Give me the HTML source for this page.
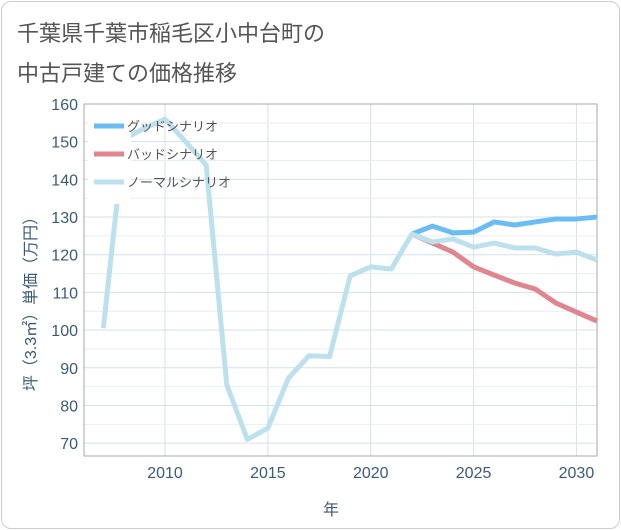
<!DOCTYPE html>
<html><head><meta charset="utf-8"><style>
body{margin:0;background:#fff;font-family:"Liberation Sans","Noto Sans CJK JP",sans-serif}
#card{position:absolute;left:1px;top:1px;width:617px;height:526px;border:1px solid #ccc;border-radius:10px;background:#fff}
#title{position:absolute;left:17px;top:14px;font-size:22px;line-height:40px;color:#555}
</style></head><body>
<div id="card"></div>
<div id="title">千葉県千葉市稲毛区小中台町の<br>中古戸建ての価格推移</div>
<svg id="chart" width="621" height="530" style="position:absolute;left:0;top:0"></svg>
<script>
const years=[2007,2008,2009,2010,2011,2012,2013,2014,2015,2016,2017,2018,2019,2020,2021,2022,2023,2024,2025,2026,2027,2028,2029,2030,2031];
const normal=[100.5,150.7,153.6,156,150,143.8,85.5,71,74,87.3,93.2,93,114.4,116.8,116.2,125.5,123.4,124.2,122,123.1,121.8,121.8,120.2,120.7,118.6];
const goodYears=[2022,2023,2024,2025,2026,2027,2028,2029,2030,2031];
const good=[125.5,127.6,125.8,126,128.7,127.9,128.7,129.5,129.5,130];
const bad=[125.5,123.1,120.7,116.8,114.6,112.5,110.9,107.2,104.8,102.4];
const xTicks=[2010,2015,2020,2025,2030];
const yTicks=[70,80,90,100,110,120,130,140,150,160];
const L=84,R=597,T=104,B=456,x0=2006.06,x1=2031,y0=66.6,y1=160;
const X=v=>L+(v-x0)/(x1-x0)*(R-L), Y=v=>B-(v-y0)/(y1-y0)*(B-T);
const svg=document.getElementById('chart');const NS='http://www.w3.org/2000/svg';
function mk(t,a,p){const e=document.createElementNS(NS,t);for(const k in a)e.setAttribute(k,a[k]);(p||svg).appendChild(e);return e;}
for(let v=2006;v<=2031;v++){if(v%5==0){const g=mk('line',{x1:X(v),x2:X(v),y1:T,y2:B,stroke:'#d5e1ea','stroke-width':1});}}
for(let v=70;v<=160;v+=5){const g=mk('line',{x1:L,x2:R,y1:Y(v),y2:Y(v),stroke:v%10==0?'#d5e1ea':'#e8eef3','stroke-width':1});}
mk('rect',{x:L,y:T,width:R-L,height:B-T,fill:'none',stroke:'#aaa','stroke-width':1});
yTicks.forEach(v=>{const t=mk('text',{x:78,y:Y(v)+6,'text-anchor':'end','font-size':16,fill:'#3c5a78'});t.textContent=v;});
xTicks.forEach(v=>{const t=mk('text',{x:X(v),y:478,'text-anchor':'middle','font-size':16,fill:'#3c5a78'});t.textContent=v;});
const xt=mk('text',{x:331,y:515,'text-anchor':'middle','font-size':16,fill:'#3c5a78'});xt.textContent='年';
const yt=mk('text',{x:0,y:0,'text-anchor':'middle','font-size':16,fill:'#3c5a78',transform:'translate(36,300) rotate(-90)'});yt.textContent='坪（3.3㎡）単価（万円）';
function line(xs,ys,c,n){const p=mk('polyline',{points:xs.map((v,i)=>X(v)+','+Y(ys[i])).join(' '),fill:'none',stroke:c,'stroke-width':5,'stroke-linejoin':'round'});}
line(goodYears,bad,'#e0868f','bad-scenario-line');
line(goodYears,good,'#6bbcf2','good-scenario-line');
line(years,normal,'#bde0ef','normal-scenario-line');
const lg=mk('g',{});
mk('rect',{x:88,y:112,width:43,height:92,fill:'#fff'},lg);
[['グッドシナリオ','#6bbcf2'],['バッドシナリオ','#e0868f'],['ノーマルシナリオ','#bde0ef']].forEach((d,i)=>{const yy=126+i*28;
const s=mk('line',{x1:94,x2:124,y1:yy,y2:yy,stroke:d[1],'stroke-width':5},lg);
const t=mk('text',{x:127,y:yy+5,'font-size':13,fill:'#555'},lg);t.textContent=d[0];});
</script>
</body></html>
